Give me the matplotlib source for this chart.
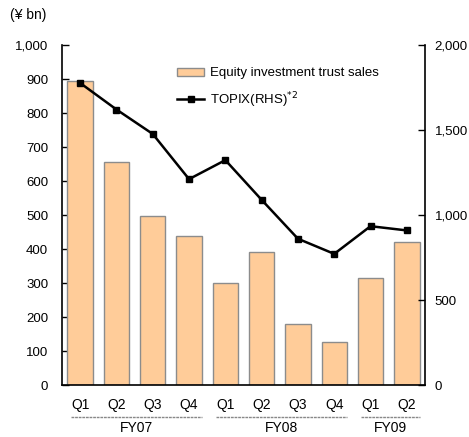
import matplotlib
matplotlib.use("Agg")
import matplotlib.pyplot as plt
import numpy as np

quarters = ["Q1", "Q2", "Q3", "Q4", "Q1", "Q2", "Q3", "Q4", "Q1", "Q2"]
fiscal_years = ["FY07", "FY08", "FY09"]
fy_counts = [4, 4, 2]
sales = [895, 655, 497, 439, 300, 392, 179, 127, 314, 420]
topix = [1778, 1622, 1478, 1212, 1324, 1090, 861, 772, 935, 910]

plt.rcParams['font.family'] = ['Liberation Sans', 'DejaVu Sans']

fig = plt.figure(figsize=(4.69, 4.37), dpi=100)
ax = fig.add_axes([62/469, 1-385/437, (425-62)/469, (385-45.3)/437])
x = np.arange(len(quarters))
ax.bar(x, sales, width=0.7, color="#FFCC99", edgecolor="#8c8c8c", linewidth=1.0,
       label="Equity investment trust sales", zorder=2)
ax.set_xlim(-0.5, len(quarters) - 0.5)
ax.set_ylim(0, 1000)
ax.set_yticks(np.arange(0, 1001, 100))
ax.set_yticklabels([f"{v:,}" for v in range(0, 1001, 100)])
ax.tick_params(axis='y', direction='in', length=5, width=1, labelsize=9.5, pad=10)
ax.set_xticks([])
for s in ["top", "right"]:
    ax.spines[s].set_visible(False)
ax.spines["left"].set_linewidth(1.2)
ax.spines["bottom"].set_linewidth(1.2)

ax2 = ax.twinx()
ax2.plot(x, topix, color="black", linewidth=1.8, marker="s", markersize=4,
         label="TOPIX(RHS)$^{*2}$", zorder=3)
ax2.set_ylim(0, 2000)
ax2.set_yticks(np.arange(0, 2001, 500))
ax2.set_yticklabels([f"{v:,}" for v in range(0, 2001, 500)])
ax2.tick_params(axis='y', direction='in', length=5, width=1, labelsize=9.5, pad=7)
for s in ["top", "left", "bottom"]:
    ax2.spines[s].set_visible(False)
ax2.spines["right"].set_linewidth(1.2)

# quarter labels
trans = ax.get_xaxis_transform()
for xi, q in zip(x, quarters):
    ax.text(xi, -20/339.7, q, transform=trans, ha="center", va="center", fontsize=10)

# fiscal-year group lines and labels
start = 0
for fy, n in zip(fiscal_years, fy_counts):
    x0 = start - 0.25
    x1 = start + n - 1 + 0.35
    ax.plot([x0, x1], [-32/339.7, -32/339.7], transform=trans, color="#888888",
            linewidth=1.0, linestyle=(0, (2, 0.6)), clip_on=False)
    ax.text((start + start + n - 1) / 2 + 0.05, -43/339.7, fy, transform=trans,
            ha="center", va="center", fontsize=10)
    start += n

fig.text(10/469, 1-15/437, "(¥ bn)", ha="left", va="center", fontsize=10)

h1, l1 = ax.get_legend_handles_labels()
h2, l2 = ax2.get_legend_handles_labels()
ax2.legend(h1 + h2, l1 + l2, loc="upper left", bbox_to_anchor=(0.285, 0.97),
           frameon=False, fontsize=9.5, handlelength=2.0, handleheight=0.6,
           labelspacing=0.8, handletextpad=0.5)

fig.savefig("out.png", dpi=100)
